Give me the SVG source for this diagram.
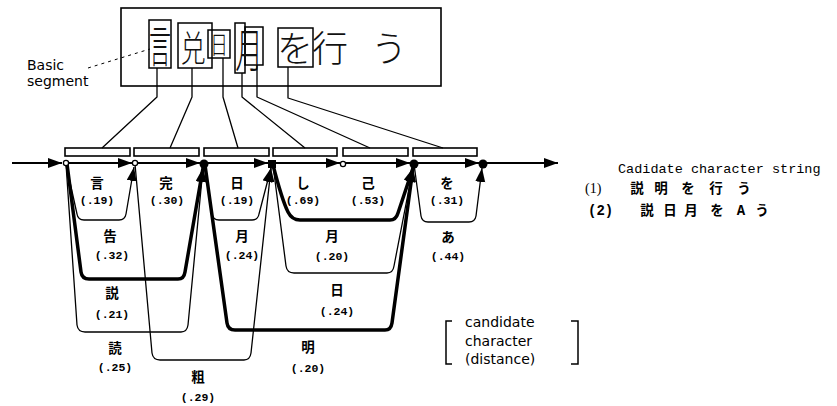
<svg xmlns="http://www.w3.org/2000/svg" width="837" height="406" viewBox="0 0 837 406">
<defs>
<style>
.ln{fill:none;stroke:#000;stroke-width:1.3;stroke-linejoin:round}
.tk{fill:none;stroke:#000;stroke-width:3.5;stroke-linejoin:round}
.ml{fill:none;stroke:#000;stroke-width:2}
.bar{fill:#fff;stroke:#000;stroke-width:1.6}
.seg{fill:none;stroke:#000;stroke-width:1.5}
.hw{font-family:"Noto Sans CJK JP","Noto Sans CJK SC",sans-serif;font-weight:300;fill:#111;text-anchor:middle}
.cj{font-family:"Noto Sans CJK JP","Noto Sans CJK SC",sans-serif;font-weight:700;font-size:13.5px;fill:#000;text-anchor:middle}
.ds{font-family:"Liberation Mono",monospace;font-weight:700;font-size:11.5px;fill:#000;text-anchor:middle}
.en{font-family:"DejaVu Sans",sans-serif;font-size:14px;fill:#000}
.lg{font-family:"Liberation Mono",monospace;font-size:13.5px;fill:#000}
</style>
<marker id="ah" markerUnits="userSpaceOnUse" markerWidth="16" markerHeight="12" refX="14" refY="5" orient="auto">
<path d="M0,0 L14,5 L0,10 Z" fill="#000"/>
</marker>
</defs>
<rect width="837" height="406" fill="#fff"/>

<g id="input-image">
<rect x="121" y="8" width="320" height="78" fill="none" stroke="#000" stroke-width="1.6"/>
<rect class="seg" x="149" y="20" width="22" height="48"/>
<rect class="seg" x="178" y="23" width="34" height="45"/>
<rect class="seg" x="208" y="30" width="22" height="28"/>
<rect class="seg" x="235" y="23" width="10" height="50"/>
<rect class="seg" x="245" y="27" width="18" height="38"/>
<rect class="seg" x="278" y="28" width="35" height="39"/>
<text class="hw" font-size="44" transform="translate(160,63) scale(0.5,1)">言</text>
<text class="hw" font-size="36" transform="translate(193,62) scale(0.7,1)">兑</text>
<text class="hw" font-size="25" transform="translate(219,54) scale(0.7,1)">日</text>
<text class="hw" font-size="46" transform="translate(249,67) scale(0.6,1)">月</text>
<text class="hw" font-size="36" x="295" y="62">を</text>
<text class="hw" font-size="36" x="330" y="62">行</text>
<text class="hw" font-size="36" x="389" y="62">う</text>
</g>

<g id="basic-segment-label">
<text class="en" x="27" y="70">Basic</text>
<text class="en" x="27" y="86">segment</text>
<path d="M88,68 L150,49" fill="none" stroke="#000" stroke-width="1" stroke-dasharray="3,4"/>
</g>

<g id="segment-bars">
<rect class="bar" x="65" y="148" width="65" height="8"/>
<rect class="bar" x="134" y="148" width="65" height="8"/>
<rect class="bar" x="204" y="148" width="65" height="8"/>
<rect class="bar" x="273" y="148" width="64" height="8"/>
<rect class="bar" x="343" y="148" width="65" height="8"/>
<rect class="bar" x="413" y="148" width="64" height="8"/>
</g>

<g id="segment-links">
<path class="ln" d="M157,68 V97 L102,148"/>
<path class="ln" d="M192,68 V97 L170,148"/>
<path class="ln" d="M223,58 V97 L238,148"/>
<path class="ln" d="M242,73 V97 L305,148"/>
<path class="ln" d="M257,65 V97 L370,148"/>
<path class="ln" d="M288,67 V98 L443,148"/>
</g>

<g id="connectors">
<path class="ml" stroke-width="3" d="M12,163 L62,163" marker-end="url(#ah)"/>
<path class="ml" stroke-width="1.6" d="M66,163 L132,163" marker-end="url(#ah)"/>
<path class="ml" stroke-width="1.6" d="M135,163 L200,163" marker-end="url(#ah)"/>
<path class="ml" stroke-width="2.4" d="M204,163 L268,163" marker-end="url(#ah)"/>
<path class="ml" stroke-width="1.6" d="M272,163 L340,163" marker-end="url(#ah)"/>
<path class="ml" stroke-width="1.6" d="M343,163 L410,163" marker-end="url(#ah)"/>
<path class="ml" stroke-width="2.4" d="M414,163 L479,163" marker-end="url(#ah)"/>
<path class="ml" stroke-width="2.4" d="M483,163 L558,163" marker-end="url(#ah)"/>

<path class="ln" d="M66,164 L77,214 Q78,220 84,220 L119,220 Q125,220 126,214 L134,167" marker-end="url(#ah)"/>
<path class="tk" d="M67,164 L81,272 Q82,279 89,279 L178,279 Q184,279 185,272 L203,168" marker-end="url(#ah)"/>
<path class="ln" d="M66,164 L77,325 Q78,332 85,332 L181,332 Q187,332 188,325 L203,168" marker-end="url(#ah)"/>
<path class="ln" d="M135,164 L152,353 Q153,360 160,360 L244,360 Q250,360 251,353 L271,168" marker-end="url(#ah)"/>
<path class="ln" d="M204,164 L212,214 Q213,220 219,220 L252,220 Q258,220 259,214 L271,168" marker-end="url(#ah)"/>
<path class="tk" d="M205,165 L227,323 Q228,330 235,330 L385,330 Q391,330 392,323 L413,168" marker-end="url(#ah)"/>
<path class="tk" d="M273,165 Q282,200 288,212 Q292,220 300,220 L390,220 Q396,220 398,213 L413,168" marker-end="url(#ah)"/>
<path class="ln" d="M273,165 L286,266 Q287,273 294,273 L387,273 Q393,273 394,266 L413,168" marker-end="url(#ah)"/>
<path class="ln" d="M414,164 L421,216 Q422,222 428,222 L469,222 Q475,222 476,216 L482,168" marker-end="url(#ah)"/>
</g>

<g id="nodes">
<circle cx="66" cy="163" r="2.6" fill="#fff" stroke="#000" stroke-width="1.3"/>
<circle cx="135" cy="163" r="2.6" fill="#fff" stroke="#000" stroke-width="1.3"/>
<circle cx="204" cy="164" r="4.5" fill="#000"/>
<rect x="268" y="160" width="8" height="8" fill="#000"/>
<circle cx="343" cy="164" r="2.6" fill="#fff" stroke="#000" stroke-width="1.3"/>
<circle cx="414" cy="164" r="4.5" fill="#000"/>
<circle cx="483" cy="164" r="4.5" fill="#000"/>
</g>

<g id="edge-labels">
<text class="cj" x="97" y="188">言</text><text class="ds" x="97" y="204">(.19)</text>
<text class="cj" x="166" y="188">完</text><text class="ds" x="167" y="204">(.30)</text>
<text class="cj" x="237" y="188">日</text><text class="ds" x="237" y="204">(.19)</text>
<text class="cj" x="303" y="188">し</text><text class="ds" x="303" y="204">(.69)</text>
<text class="cj" x="368" y="188">己</text><text class="ds" x="368" y="204">(.53)</text>
<text class="cj" x="447" y="188">を</text><text class="ds" x="447" y="204">(.31)</text>
<text class="cj" x="110" y="241">告</text><text class="ds" x="112" y="259">(.32)</text>
<text class="cj" x="242" y="241">月</text><text class="ds" x="242" y="259">(.24)</text>
<text class="cj" x="332" y="241">月</text><text class="ds" x="332" y="260">(.20)</text>
<text class="cj" x="448" y="242">あ</text><text class="ds" x="448" y="260">(.44)</text>
<text class="cj" x="337" y="295">日</text><text class="ds" x="337" y="315">(.24)</text>
<text class="cj" x="112" y="298">説</text><text class="ds" x="112" y="318">(.21)</text>
<text class="cj" x="115" y="353">読</text><text class="ds" x="115" y="371">(.25)</text>
<text class="cj" x="198" y="382">粗</text><text class="ds" x="198" y="401">(.29)</text>
<text class="cj" x="308" y="352">明</text><text class="ds" x="308" y="372">(.20)</text>
</g>

<g id="legend">
<path d="M452,321 H446 V364 H452" fill="none" stroke="#000" stroke-width="1.5"/>
<path d="M571,321 H578 V364 H571" fill="none" stroke="#000" stroke-width="1.5"/>
<text class="en" font-size="15" x="465" y="327">candidate</text>
<text class="en" font-size="15" x="465" y="346">character</text>
<text class="en" font-size="15" x="465" y="364">(distance)</text>
</g>

<g id="candidate-strings">
<text class="lg" x="618" y="173">Cadidate character string</text>
<text x="585" y="193" font-family="Liberation Serif,serif" font-size="14">(1)</text>
<text class="cj" x="637" y="193">説</text>
<text class="cj" x="661" y="193">明</text>
<text class="cj" x="688" y="193">を</text>
<text class="cj" x="716" y="193">行</text>
<text class="cj" x="744" y="193">う</text>
<text x="588" y="215" font-family="Liberation Mono,monospace" font-weight="700" font-size="14">(2)</text>
<text class="cj" x="647" y="215">説</text>
<text class="cj" x="670" y="215">日</text>
<text class="cj" x="691" y="215">月</text>
<text class="cj" x="717" y="215">を</text>
<text x="741" y="215" font-family="Liberation Mono,monospace" font-weight="700" font-size="14" text-anchor="middle">A</text>
<text class="cj" x="762" y="215">う</text>
</g>
</svg>
